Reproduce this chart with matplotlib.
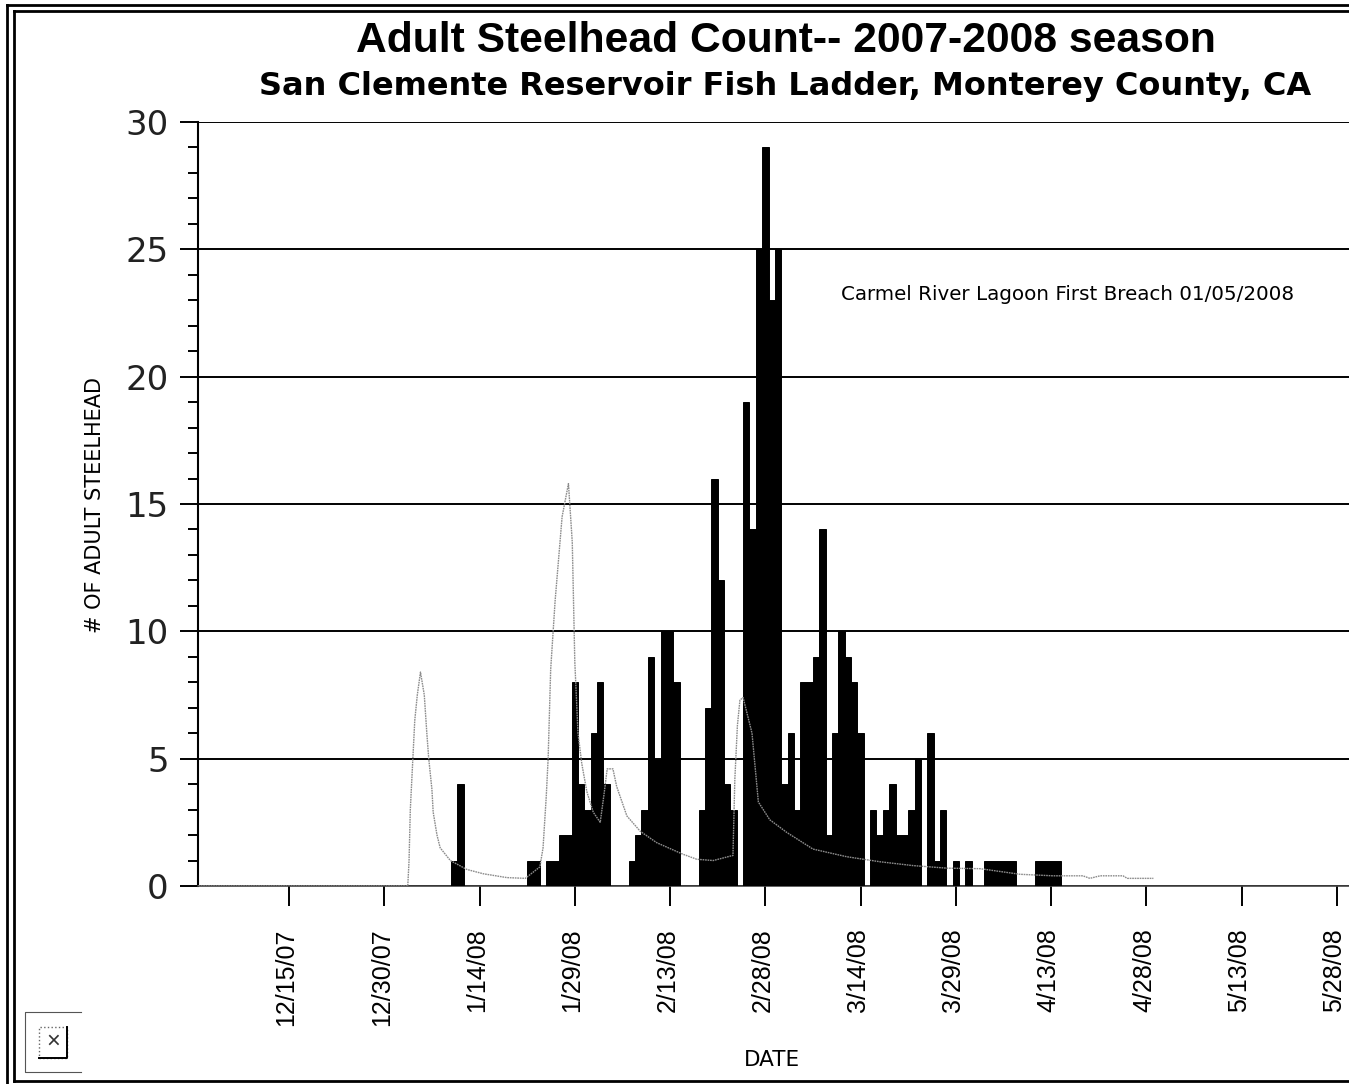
import matplotlib
matplotlib.use('Agg')
import matplotlib.pyplot as plt
from matplotlib.lines import Line2D
from matplotlib.patches import Rectangle
from matplotlib.ticker import MultipleLocator
from matplotlib.transforms import ScaledTranslation

W, H = 1349, 1084

# day number counted from 12/15/07
bar_days = [26, 27, 38, 39, 41, 42, 43, 44, 45, 46, 47, 48, 49, 50,
            54, 55, 56, 57, 58, 59, 60, 61,
            65, 66, 67, 68, 69, 70,
            72, 73, 74, 75, 76, 77, 78, 79, 80, 81, 82, 83, 84, 85, 86, 87, 88, 89, 90,
            92, 93, 94, 95, 96, 97, 98, 99,
            101, 102, 103, 105, 107,
            110, 111, 112, 113, 114, 118, 119, 120, 121]
bar_counts = [1, 4, 1, 1, 1, 1, 2, 2, 8, 4, 3, 6, 8, 4,
              1, 2, 3, 9, 5, 10, 10, 8,
              3, 7, 16, 12, 4, 3,
              19, 14, 25, 29, 23, 25, 4, 6, 3, 8, 8, 9, 14, 2, 6, 10, 9, 8, 6,
              3, 2, 3, 4, 2, 2, 3, 5,
              6, 1, 3, 1, 1,
              1, 1, 1, 1, 1, 1, 1, 1, 1]

flow_days = [-14.3, 18.7, 18.9, 19.1, 19.5, 19.8, 20.2, 20.7, 21.3, 21.7, 22, 22.5, 22.7, 23.3, 23.8,
             25.4, 28, 30.6, 34.3, 37.2, 39.5, 40, 40.5, 40.8, 41.2, 41.9, 43, 44, 44.6, 45, 45.5,
             46.1, 46.9, 47.9, 49, 49.6, 50.1, 51, 51.6, 53.2, 55.3, 57.9, 62, 64.2, 66.8, 69.9,
             70.2, 70.6, 71, 71.5, 72.9, 73.9, 75.7, 78.4, 82.5, 87.8, 93.1, 98.3, 103.6, 108.8,
             115.1, 120.3, 125, 126.1, 127.7, 131.3, 132, 136.1]
flow_vals = [0, 0, 1, 3, 5, 6.5, 7.5, 8.4, 7.5, 6, 5, 3.8, 2.9, 2, 1.5,
             1, .65, .48, .33, .3, .75, 1.5, 3.5, 5, 8.5, 11.2, 14.5, 15.8, 13.5, 8.8, 6,
             4.8, 3.7, 2.9, 2.5, 3.6, 4.6, 4.6, 3.9, 2.75, 2.15, 1.7, 1.25, 1.05, 1, 1.2,
             4.2, 6.3, 7.3, 7.4, 6, 3.3, 2.6, 2.1, 1.45, 1.15, .95, .8, .7, .68,
             .46, .4, .4, .3, .4, .4, .3, .3]

tick_days = [0, 15, 30, 45, 60, 75, 90, 105, 120, 135, 150, 165]
tick_labels = ['12/15/07', '12/30/07', '1/14/08', '1/29/08', '2/13/08', '2/28/08',
               '3/14/08', '3/29/08', '4/13/08', '4/28/08', '5/13/08', '5/28/08']

title = 'Adult Steelhead Count-- 2007-2008 season'
subtitle = 'San Clemente Reservoir Fish Ladder, Monterey County, CA'
note = 'Carmel River Lagoon First Breach 01/05/2008'

plt.rcParams['font.family'] = ['Liberation Sans', 'DejaVu Sans']

fig = plt.figure(figsize=(W / 100, H / 100), dpi=100)
ax = fig.add_axes([198 / W, (H - 886) / H, (W - 198) / W, (886 - 122) / H])


def fx(px):
    return px / W


def fy(px):
    return 1 - px / H


ax.bar(bar_days, bar_counts, width=1.0, color='black', edgecolor='black', linewidth=0.7, zorder=3)
ax.plot(flow_days, flow_vals, color='#8c8c8c', lw=1.0, ls=(0, (1.2, 0.6)), zorder=4)

ax.set_xlim(-14.33, 166.9)
ax.set_ylim(0, 30)
ax.yaxis.set_major_locator(MultipleLocator(5))
ax.yaxis.set_minor_locator(MultipleLocator(1))
ax.set_xticks(tick_days)
ax.set_xticklabels(tick_labels, rotation=90, fontsize=18, ha='center', va='top')
ax.tick_params(axis='x', length=14.5, width=1.4, pad=16, color='black')
ax.tick_params(axis='y', which='major', length=13, width=1.4, pad=8, labelsize=24.5)
ax.tick_params(axis='y', which='minor', length=7, width=1.4)
ax.grid(axis='y', which='major', color='black', lw=1.4, zorder=2)
for lab in ax.get_yticklabels():
    lab.set_color('#222222')
    lab.set_family('DejaVu Sans')
# date labels sit a little left of their ticks
shift = ScaledTranslation(-2.5 / 100, 0, fig.dpi_scale_trans)
for lab in ax.get_xticklabels():
    lab.set_transform(lab.get_transform() + shift)
for s in ['top', 'right']:
    ax.spines[s].set_visible(False)
ax.spines['left'].set_linewidth(1.5)
ax.spines['bottom'].set_linewidth(1.2)
ax.spines['bottom'].set_color('#444444')
ax.set_axisbelow(True)

# titles and labels
fig.text(fx(786), fy(41), title, fontsize=30.7, fontweight='bold', ha='center', va='center')
fig.text(fx(785), fy(86), subtitle, fontsize=23, fontweight='bold', ha='center', va='center',
         family='DejaVu Sans')
fig.text(fx(1068), fy(295), note, fontsize=14.3, ha='center', va='center', family='DejaVu Sans')
fig.text(fx(95), fy(505), '# OF ADULT STEELHEAD', fontsize=15, rotation=90,
         ha='center', va='center', family='DejaVu Sans')
fig.text(fx(772), fy(1060), 'DATE', fontsize=15.5, ha='center', va='center', family='DejaVu Sans')

# double frame of the window
for xs, ys, lw in [
    ([7, 7], [5, 1084], 2.0),
    ([14, 14], [11, 1081], 2.0),
    ([7, 1349], [5, 5], 2.0),
    ([14, 1349], [11, 11], 2.0),
    ([14, 1349], [1081, 1081], 2.0),
]:
    fig.add_artist(Line2D([fx(x) for x in xs], [fy(y) for y in ys], color='black', lw=lw))

# broken image placeholder
for xs, ys in [([81, 25, 25, 81], [1012, 1012, 1072, 1072])]:
    fig.add_artist(Line2D([fx(x) for x in xs], [fy(y) for y in ys], color='#555555', lw=0.8))
fig.add_artist(Rectangle((fx(39), fy(1058)), 28 / W, 31 / H, transform=fig.transFigure,
                         facecolor='white', edgecolor='#666666', lw=1, ls=':'))
fig.add_artist(Line2D([fx(39), fx(67), fx(67)], [fy(1058), fy(1058), fy(1027)], color='black', lw=1.4))
fig.text(fx(53), fy(1042), '×', fontsize=17, ha='center', va='center', color='#333333')

fig.savefig('out.png', dpi=100)
